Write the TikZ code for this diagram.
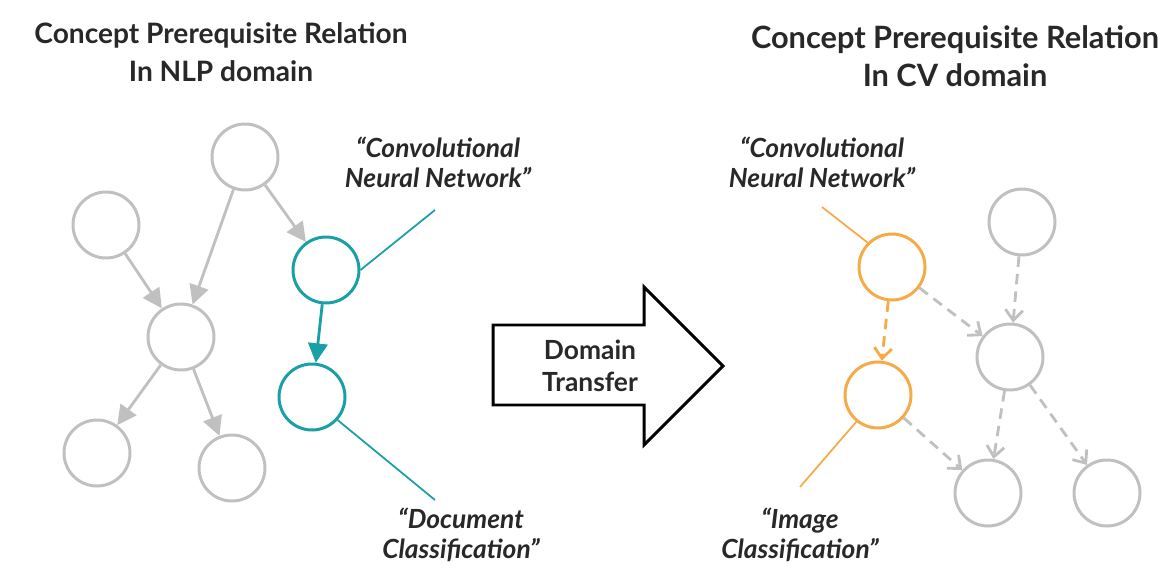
\documentclass[tikz,border=0pt]{standalone}
\usepackage{fontspec}
\setmainfont{Lato}
\usetikzlibrary{arrows.meta}

\definecolor{nodegray}{RGB}{192,192,192}
\definecolor{nlpteal}{RGB}{24,160,166}
\definecolor{cvorange}{RGB}{246,170,72}
\definecolor{inkgray}{RGB}{40,40,40}

\tikzset{
  concept/.style={draw=nodegray, circle, line width=1.7pt,
    minimum size=13.2mm, inner sep=0pt},
  nlpconcept/.style={concept, draw=nlpteal},
  cvconcept/.style={concept, draw=cvorange},
  prereq/.style={draw=nodegray, line width=1.6pt,
    -{Triangle[length=11pt, width=11pt]}},
  guess/.style={draw=nodegray, line width=1.6pt,
    dash pattern=on 6pt off 4pt, -{Straight Barb[length=6pt, width=10pt]}},
  quote/.style={text=inkgray, font=\bfseries\itshape\fontsize{15}{17}\selectfont,
    align=center},
  title/.style={text=inkgray, font=\bfseries\fontsize{16}{21.6}\selectfont, align=center}
}

\begin{document}
\begin{tikzpicture}[x=0.2mm, y=-0.2mm]
\useasboundingbox (0,0) rectangle (1159,568);

% titles
\node[title] (nlptitle) at (221,52) {Concept Prerequisite Relation\\In NLP domain};
\node[title, font=\bfseries\fontsize{17.5}{21.6}\selectfont] (cvtitle) at (955,56)
  {Concept Prerequisite Relation\\In CV domain};

% NLP graph
\node[concept] (n1) at (245,157) {};
\node[concept] (n2) at (106,225) {};
\node[concept] (n3) at (181,337) {};
\node[concept] (n4) at (97,453) {};
\node[concept] (n5) at (232,468) {};
\node[nlpconcept] (cnn) at (326,270) {};
\node[nlpconcept] (doc) at (312,397) {};

\draw[prereq] (n1) -- (n3);
\draw[prereq] (n2) -- (n3);
\draw[prereq] (n1) -- (cnn);
\draw[prereq] (n3) -- (n4);
\draw[prereq] (n3) -- (n5);
\draw[prereq, draw=nlpteal] (cnn) -- (doc);

\node[quote] (cnnlabel) at (438,162) {“Convolutional\\Neural Network”};
\node[quote] (doclabel) at (461,535) {“Document\\Classification”};
\coordinate (cnnend) at (435,210);
\coordinate (docend) at (435,500);
\draw[nlpteal, line width=1pt] (cnn.east) -- (cnnend);
\draw[nlpteal, line width=1pt] (doc.-42) -- (docend);

% domain transfer arrow
\draw[line width=1.7pt, line join=miter] (493,325) -- (644,325) -- (644,287)
  -- (723,366) -- (644,445) -- (644,405) -- (493,405) -- cycle;
\node[text=inkgray, font=\bfseries\fontsize{15}{18}\selectfont, align=center] (transfer)
  at (590,366) {Domain\\Transfer};

% CV graph
\node[cvconcept] (cnncv) at (892,267) {};
\node[cvconcept] (img) at (878,395) {};
\node[concept] (m1) at (1022,222) {};
\node[concept] (m2) at (1010,357) {};
\node[concept] (m3) at (988,493) {};
\node[concept] (m4) at (1107,493) {};

\draw[guess, draw=cvorange] (cnncv) -- (img);
\draw[guess] (cnncv) -- (m2);
\draw[guess] (m1) -- (m2);
\draw[guess] (m2) -- (m3);
\draw[guess] (m2) -- (m4);
\draw[guess] (img) -- (m3);

\node[quote] (cnncvlabel) at (822,162) {“Convolutional\\Neural Network”};
\node[quote] (imglabel) at (800,535) {“Image\\Classification”};
\coordinate (cnncvend) at (822,207);
\coordinate (imgend) at (800,487);
\draw[cvorange, line width=1pt] (cnncv.135) -- (cnncvend);
\draw[cvorange, line width=1pt] (img.231) -- (imgend);
\end{tikzpicture}
\end{document}
